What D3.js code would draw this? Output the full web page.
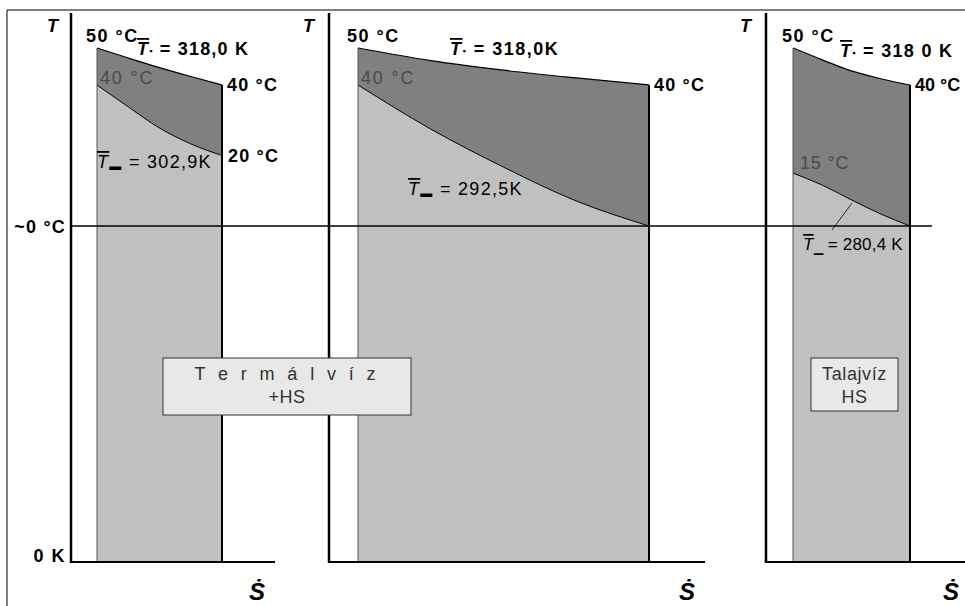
<!DOCTYPE html>
<html>
<head>
<meta charset="utf-8">
<script src="https://cdn.jsdelivr.net/npm/d3@7/dist/d3.min.js"></script>
<style>
  html, body { margin: 0; padding: 0; background: #fff; }
  svg { display: block; font-family: "Liberation Sans", Arial, sans-serif; }
</style>
</head>
<body>
<svg id="chart" width="965" height="606"></svg>
<script>
// ---------------- DATA ----------------
const panelNames = ["Termálvíz+HS", "middle", "Talajvíz HS"];
const sFrac = [0, 0.25, 0.5, 0.75, 1];               // fraction of entropy flow Ṡ
const topTempC = [                                    // heating-water curve, °C
  [50, 47.3, 44.7, 42.3, 40],
  [50, 46.6, 44.0, 41.9, 40],
  [50, 46.8, 43.8, 41.7, 40]
];
const lowTempC = [                                    // heat-source curve, °C
  [40, 33.8, 27.8, 23.3, 20],
  [40, 27.5, 16.7, 7.1, 0],
  [15, 11.6, 7.4, 3.4, 0]
];
const meanTopText = ["318,0 K", "318,0K", "318 0 K"];
const meanLowText = ["302,9K", "292,5K", "280,4 K"];
const startTopLabel = ["50 °C", "50 °C", "50 °C"];
const endTopLabel = ["40 °C", "40 °C", "40 °C"];
const startLowLabel = ["40 °C", "40 °C", "15 °C"];
const endLowLabel = ["20 °C", "", ""];
const boxLines = [["T e r m á l v í z", "+HS"], null, ["Talajvíz", "HS"]];
const yTickValues = [-273.15, 0];
const yTickLabels = ["0 K", "~0 °C"];
const axisTitle = "T";
const xTitle = "Ṡ";

// ---------------- LAYOUT ----------------
const svg = d3.select("#chart");
const yScale = d3.scaleLinear().domain([-273.15, 0, 40, 50]).range([562, 226, 85, 48]);
const layout = [
  { axisX: 71,  xEnd: 275, r0: 97,  r1: 222, Tx: 47,  lowLbl: [97, 168],  box: [163, 358, 248, 57], boxLS: [3.9, 0.5], endLS: 1.2 },
  { axisX: 329, xEnd: 705, r0: 358, r1: 649, Tx: 303, lowLbl: [408, 195], box: null, endLS: 1.2 },
  { axisX: 766, xEnd: 965, r0: 793, r1: 910, Tx: 740, lowLbl: [803, 250], box: [811, 358, 87, 53], boxLS: [0.6, 0.5], endLS: 0 }
];
const topLblX = [137, 450, 840];
const topLblY = [55, 55, 57];
const DARK = "#808080", LIGHT = "#c0c0c0";

// outer frame
svg.append("line").attr("x1", 7).attr("x2", 7).attr("y1", 10).attr("y2", 606).attr("stroke", "#000").attr("stroke-width", 1);
svg.append("line").attr("x1", 7).attr("x2", 965).attr("y1", 10).attr("y2", 10).attr("stroke", "#000").attr("stroke-width", 1);

const bold = (sel, size) => sel.attr("font-weight", "bold").attr("font-size", size);

const panelLayer = svg.append("g");
const zeroLayer = svg.append("g");
const boxLayer = svg.append("g");

layout.forEach((L, i) => {
  const g = panelLayer.append("g");
  const x = d3.scaleLinear().domain([0, 1]).range([L.r0, L.r1]);
  const topPts = sFrac.map((s, k) => [s, topTempC[i][k]]);
  const lowPts = sFrac.map((s, k) => [s, lowTempC[i][k]]);

  // light region: from heat-source curve down to 0 K
  const lightArea = d3.area().x(d => x(d[0])).y0(yScale(-273.15)).y1(d => yScale(d[1])).curve(d3.curveMonotoneX);
  g.append("path").datum(lowPts).attr("d", lightArea).attr("fill", LIGHT);

  // dark region between curves
  const darkArea = d3.area().x(d => x(d[0])).y0((d, k) => yScale(lowTempC[i][k])).y1(d => yScale(d[1])).curve(d3.curveMonotoneX);
  g.append("path").datum(topPts).attr("d", darkArea).attr("fill", DARK);

  const line = d3.line().x(d => x(d[0])).y(d => yScale(d[1])).curve(d3.curveMonotoneX);
  g.append("path").datum(topPts).attr("d", line).attr("fill", "none").attr("stroke", "#000").attr("stroke-width", 1.2);
  g.append("path").datum(lowPts).attr("d", line).attr("fill", "none").attr("stroke", "#000").attr("stroke-width", 1);

  // rectangle edges
  g.append("line").attr("x1", x(0)).attr("x2", x(0)).attr("y1", yScale(50)).attr("y2", yScale(-273.15))
    .attr("stroke", "#555").attr("stroke-width", 1);
  g.append("line").attr("x1", x(1)).attr("x2", x(1)).attr("y1", yScale(40)).attr("y2", yScale(-273.15))
    .attr("stroke", "#000").attr("stroke-width", 2);

  // axes
  g.append("line").attr("x1", L.axisX).attr("x2", L.axisX).attr("y1", 13).attr("y2", yScale(-273.15) + 1)
    .attr("stroke", "#000").attr("stroke-width", 2.5);
  g.append("line").attr("x1", L.axisX).attr("x2", L.xEnd).attr("y1", yScale(-273.15)).attr("y2", yScale(-273.15))
    .attr("stroke", "#000").attr("stroke-width", 2);

  // axis titles
  bold(g.append("text"), 18).attr("font-style", "italic").attr("x", L.Tx).attr("y", 32).text(axisTitle);
  bold(g.append("text"), 24).attr("font-style", "italic").attr("x", L.xEnd - (i === 2 ? 22 : 26)).attr("y", 600).text(xTitle);

  // temperature labels
  bold(g.append("text"), 18).attr("x", L.r0 - 11).attr("y", yScale(50) - 6).attr("letter-spacing", 1.5).text(startTopLabel[i]);
  bold(g.append("text"), 18).attr("x", L.r1 + 5).attr("y", yScale(40) + 6).attr("letter-spacing", L.endLS).text(endTopLabel[i]);
  g.append("text").attr("x", L.r0 + (i === 2 ? 7 : 3)).attr("y", yScale(lowTempC[i][0]) - (i === 2 ? 4 : 1))
    .attr("font-size", 18).attr("fill", "#4a4a4a").attr("letter-spacing", i === 2 ? 0.8 : 1.8).text(startLowLabel[i]);
  if (endLowLabel[i]) bold(g.append("text"), 18).attr("x", L.r1 + 6).attr("y", yScale(lowTempC[i][4]) + 6)
    .attr("letter-spacing", 1.2).text(endLowLabel[i]);

  // mean temperature labels
  const tTop = bold(g.append("text"), 18).attr("x", topLblX[i]).attr("y", topLblY[i]).attr("letter-spacing", [1.2, 1.5, 1.3][i]);
  tTop.append("tspan").attr("font-style", "italic").style("text-decoration", "overline").text("T");
  tTop.append("tspan").attr("font-size", 9).attr("dy", -1).text("▪");
  tTop.append("tspan").attr("dy", 1).text(" = " + meanTopText[i]);

  const tLow = g.append("text").attr("x", L.lowLbl[0]).attr("y", L.lowLbl[1]).attr("font-size", i === 2 ? 17 : 18)
    .attr("letter-spacing", i === 2 ? 0.2 : 1.3);
  tLow.append("tspan").attr("font-style", "italic").style("text-decoration", "overline").text("T");
  tLow.append("tspan").attr("font-size", 12).attr("dy", 2).text(i === 2 ? "▁" : "▬");
  tLow.append("tspan").attr("dy", -2).text(" = " + meanLowText[i]);

  if (i === 2) {
    g.append("line").attr("x1", 832).attr("y1", 230).attr("x2", 852).attr("y2", 203).attr("stroke", "#000").attr("stroke-width", 0.8);
  }

  // boxes
  if (L.box && boxLines[i]) {
    const [bx, by, bw, bh] = L.box;
    const bg = boxLayer.append("g");
    bg.append("rect").attr("x", bx).attr("y", by).attr("width", bw).attr("height", bh)
      .attr("fill", "#e8e8e8").attr("stroke", "#333").attr("stroke-width", 1);
    boxLines[i].forEach((t, k) => {
      bg.append("text").attr("x", bx + bw / 2).attr("y", by + 22 + k * 23).attr("text-anchor", "middle")
        .attr("font-size", 18).attr("fill", "#333").attr("letter-spacing", L.boxLS[k]).text(t);
    });
  }
});

// zero-degree line across panels
zeroLayer.append("line").attr("x1", layout[0].axisX).attr("x2", 932).attr("y1", yScale(0)).attr("y2", yScale(0))
  .attr("stroke", "#000").attr("stroke-width", 1.5);

// y tick labels on first panel
yTickValues.forEach((v, k) => {
  bold(svg.append("text"), 18).attr("x", layout[0].axisX - 5).attr("y", yScale(v) + (k === 0 ? 0 : 7))
    .attr("letter-spacing", k === 0 ? 1.5 : 1.2).attr("text-anchor", "end").text(yTickLabels[k]);
});
</script>
</body>
</html>
